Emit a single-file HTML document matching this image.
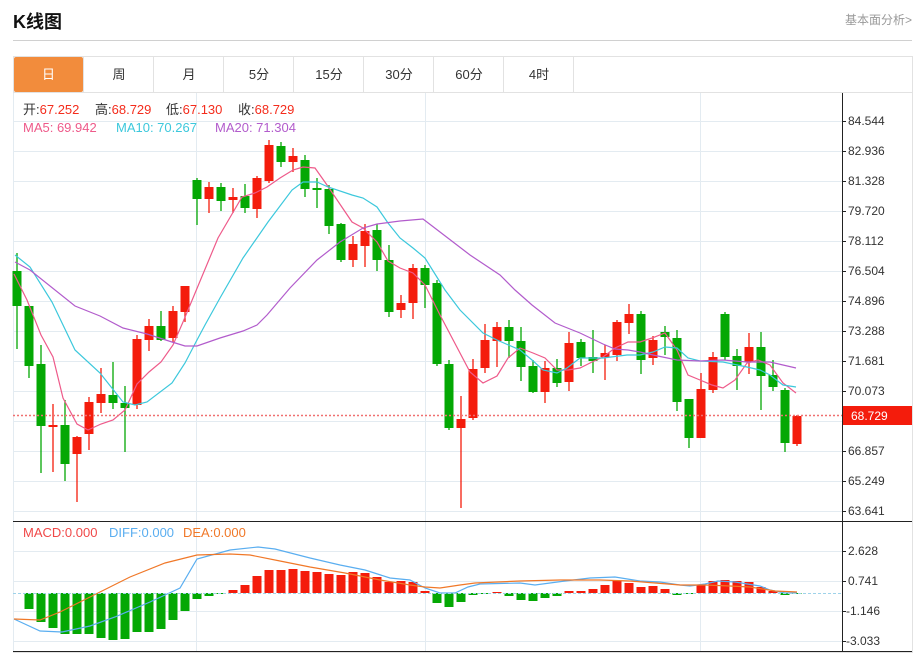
<!DOCTYPE html>
<html><head><meta charset="utf-8"><style>
body{margin:0;background:#fff;width:920px;height:653px;overflow:hidden;font-family:"Liberation Sans","Noto Sans CJK SC",sans-serif;}
.t{position:absolute;}
</style></head><body>
<div class="t" style="left:13px;top:8px;font-size:18px;font-weight:bold;color:#111;">K线图</div>
<div class="t" style="left:845px;top:11px;font-size:12px;color:#999;">基本面分析&gt;</div>
<div class="t" style="left:13px;top:40px;width:899px;height:1px;background:#d0d0d0;"></div>
<div class="t" style="left:13px;top:56px;width:898px;height:595px;border:1px solid #e2e2e2;"></div>
<div class="t" style="left:13px;top:92px;width:899px;height:1px;background:#e2e2e2;"></div>
<div class="t" style="left:14px;top:57px;width:69px;height:35px;background:#f28c3c;border-radius:2px;color:#fff;font-size:13px;line-height:35px;text-align:center;">日</div>
<div id="tabs"></div>
<svg class="t" style="left:0;top:0" width="920" height="653" id="s">
<g stroke="#e3ebf1" stroke-width="1" id="grid"></g>
<line x1="842.5" y1="93" x2="842.5" y2="651" stroke="#222"/>
<line x1="13" y1="521.5" x2="912" y2="521.5" stroke="#222"/>
<line x1="13" y1="651.5" x2="912" y2="651.5" stroke="#222"/>
<g font-size="12" fill="#333" id="lab"></g>
<g id="c"></g>
<g id="ma" fill="none" stroke-width="1.2"></g>
<line x1="13" y1="415.5" x2="842" y2="415.5" stroke="#f07070" stroke-dasharray="2,2" stroke-width="1.5"/>
<rect x="843" y="406" width="69" height="19" fill="#f41c0c"/>
<text x="851" y="420" font-size="12" fill="#fff">68.729</text>
<line x1="13" y1="593.5" x2="842" y2="593.5" stroke="#9fd3ea" stroke-dasharray="3,2"/>
<g font-size="13">
<text x="23" y="114" fill="#333">开:<tspan fill="#f42c1c">67.252</tspan></text>
<text x="95" y="114" fill="#333">高:<tspan fill="#f42c1c">68.729</tspan></text>
<text x="166" y="114" fill="#333">低:<tspan fill="#f42c1c">67.130</tspan></text>
<text x="238" y="114" fill="#333">收:<tspan fill="#f42c1c">68.729</tspan></text>
<text x="23" y="132" fill="#ee5a8a">MA5: 69.942</text>
<text x="116" y="132" fill="#3cc8dc">MA10: 70.267</text>
<text x="215" y="132" fill="#b25ccc">MA20: 71.304</text>
<text x="23" y="537" fill="#f04848">MACD:0.000</text>
<text x="109" y="537" fill="#5aaef0">DIFF:0.000</text>
<text x="183" y="537" fill="#f07828">DEA:0.000</text>
</g>
</svg>
<script>
var NS="http://www.w3.org/2000/svg";
function el(p,n,a){var e=document.createElementNS(NS,n);for(var k in a)e.setAttribute(k,a[k]);document.getElementById(p).appendChild(e);return e;}
var tabs=["周","月","5分","15分","30分","60分","4时"],h="";
for(var i=0;i<tabs.length;i++){h+='<div class="t" style="left:'+(83+i*70)+'px;top:57px;width:70px;height:35px;border-left:1px solid #e2e2e2;font-size:13px;line-height:35px;text-align:center;color:#333;">'+tabs[i]+'</div>';}
h+='<div class="t" style="left:573px;top:57px;width:1px;height:35px;background:#e2e2e2"></div>';
document.getElementById("tabs").innerHTML=h;
for(var y=121;y<=511;y+=30)el("grid","line",{x1:13,x2:842,y1:y+.5,y2:y+.5});
[551,581,611,641].forEach(function(y){el("grid","line",{x1:13,x2:842,y1:y+.5,y2:y+.5});});
[13.5,196.5,425.5,700.5].forEach(function(x){el("grid","line",{x1:x,x2:x,y1:93,y2:651});});
var pl=["84.544","82.936","81.328","79.720","78.112","76.504","74.896","73.288","71.681","70.073","68.465","66.857","65.249","63.641"];
pl.forEach(function(t,i){var y=121+30*i;el("lab","line",{x1:842,x2:846,y1:y+.5,y2:y+.5,stroke:"#222"});if(t!="68.465"){var e=el("lab","text",{x:848,y:y+4});e.textContent=t;}});
[["2.628",551],["0.741",581],["-1.146",611],["-3.033",641]].forEach(function(a){el("lab","line",{x1:842,x2:846,y1:a[1]+.5,y2:a[1]+.5,stroke:"#222"});var e=el("lab","text",{x:a[0][0]=="-"?846:848,y:a[1]+4});e.textContent=a[0];});
var C=[[271,306,253,349,0],[306,366,306,378,0],[364,426,345,473,0],[425,427,404,472,1],[425,464,400,481,0],[437,454,436,502,1],[402,434,397,450,1],[394,403,368,413,1],[395,403,362,409,0],[403,408,386,452,0],[339,405,335,409,1],[326,340,319,351,1],[326,340,311,341,0],[311,338,306,342,1],[286,312,286,322,1],
[180,199,178,225,0],[187,199,182,213,1],[187,201,183,211,0],[197,200,188,213,1],[196,208,184,213,0],[178,209,176,218,1],[145,181,140,183,1],[146,162,142,167,0],[156,162,148,172,1],[160,189,155,197,0],[188,190,178,208,0],[189,226,185,234,0],[224,260,223,262,0],[244,260,236,267,1],[231,246,224,267,1],[230,260,224,271,0],[260,312,245,317,0],[303,310,295,318,1],[268,303,264,319,1],[268,285,265,308,0],
[283,364,280,366,0],[364,428,360,430,0],[419,428,396,508,1],[369,418,359,420,1],[340,368,324,373,1],[327,341,322,367,1],[327,341,320,358,0],[341,367,327,381,0],[366,392,360,393,0],[368,392,361,403,1],[368,383,359,387,0],[343,382,332,391,1],[342,358,339,366,0],[357,361,330,373,0],[353,357,345,380,1],[322,355,320,361,1],[314,323,304,334,1],[314,360,311,374,0],[340,358,336,365,1],[332,337,326,355,0],[338,402,330,411,0],[399,438,399,448,0],[389,438,373,438,1],[357,390,352,393,1],[314,357,312,360,0],[356,366,349,390,0],[347,362,333,374,1],[347,376,332,410,0],[375,387,360,391,0],[390,443,388,452,0],[416,444,415,446,1]];
C.forEach(function(c,i){var x=17+12*i,col=c[4]?"#f41c0c":"#04a804";
el("c","line",{x1:x,x2:x,y1:c[2],y2:c[3],stroke:col,"stroke-width":1.3});
el("c","rect",{x:x-4.5,y:c[0],width:9,height:Math.max(1.5,c[1]-c[0]),fill:col});});
var M=[0,609,622,628,634,634,634,638,640,639,632,632,629,620,611,599,596,594,590,585,576,570,570,569,571,572,574,575,572,573,577,582,581,582,591,603,607,602,595,594,592,596,600,601,598,596,591,591,589,585,581,583,587,586,589,595,594,585,581,580,581,582,587,591,595,594];
M.forEach(function(v,i){if(!v)return;var x=17+12*i;var t=Math.min(v,593),b=Math.max(v,593);el("c","rect",{x:x-4.5,y:t,width:9,height:Math.max(1,b-t),fill:v<593?"#f41c0c":"#04a804"});});
function pl2(pts,col){el("ma","polyline",{points:pts,stroke:col});}
pl2("14,274 27,300 41,335 53,357 63,398 77,424 88,430 101,424 113,420 125,410 137,384 149,372 161,362 173,345 183,322 218,238 242,197 255,193 267,187 280,178 293,170 303,167 315,168 327,185 352,222 363,228 377,242 388,261 400,268 413,273 425,285 440,315 470,372 483,383 497,376 508,358 520,348 533,353 545,358 557,370 568,370 580,368 592,362 603,357 615,348 628,342 640,342 652,338 665,333 677,350 688,375 700,380 712,385 723,388 735,380 747,363 758,360 770,365 783,383 796,393","#ee5a8a");
pl2("15,255 30,267 52,302 75,350 100,373 123,402 135,405 147,402 172,383 185,363 197,340 205,325 220,298 243,258 268,222 292,190 303,182 317,182 328,187 352,195 363,198 377,207 388,223 400,238 413,248 425,258 440,282 445,290 460,310 483,333 497,340 520,350 532,360 543,370 557,373 567,368 580,358 603,358 627,355 640,355 653,352 665,347 677,348 688,358 700,361 723,362 747,367 760,370 770,375 783,385 796,387","#3cc8dc");
pl2("15,262 30,270 75,306 100,316 123,328 147,334 172,342 185,346 197,346 220,338 243,331 257,325 267,315 290,288 317,260 340,242 363,228 377,224 400,221 423,219 440,232 470,255 500,275 515,290 532,305 555,323 580,333 603,344 615,349 628,350 640,352 653,355 677,360 700,361 723,360 747,362 770,362 783,365 796,368","#b25ccc");
pl2("14,619 40,631 62,632 90,626 115,617 150,602 180,588 197,559 230,550 258,547 275,549 310,558 340,565 365,570 390,578 410,580 425,588 440,593 455,593 468,587 480,584 520,583 535,585 565,581 590,578 615,577 640,581 660,582 680,585 690,586 705,584 718,581 735,582 760,586 770,590 785,593 797,593","#5aaef0");
pl2("14,619 40,620 60,612 100,592 130,577 165,563 197,555 230,554 250,555 280,561 310,567 345,573 380,580 410,585 425,587 440,588 460,585 475,583 520,581 560,580 600,580 630,581 655,583 680,585 705,585 730,586 750,587 775,591 797,592","#f07828");
</script>
</body></html>
